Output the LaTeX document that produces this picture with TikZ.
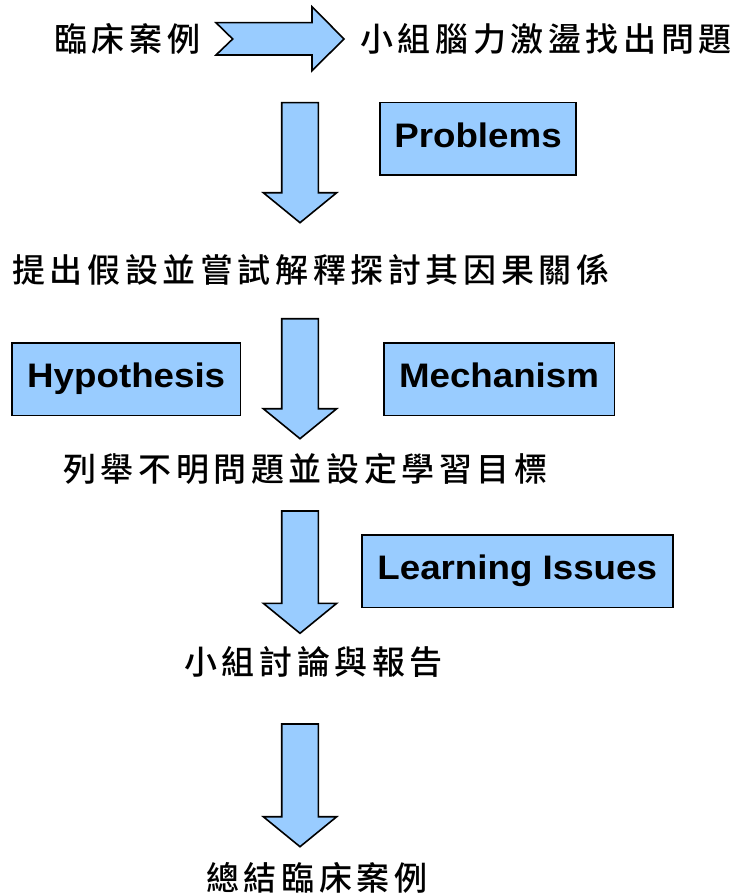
\documentclass[tikz,border=0pt]{standalone}
\usepackage{fontspec}
\setmainfont{Liberation Sans}
\newfontfamily\cjk[LetterSpace=14]{Noto Sans CJK TC Medium}
\definecolor{boxblue}{HTML}{99CCFF}
\tikzset{
  cjktext/.style={font=\cjk\fontsize{33}{36}\selectfont, inner sep=0pt, anchor=west},
  labelbox/.style={draw=black, line width=1.6pt, fill=boxblue, inner sep=0pt,
    text height=25pt, text depth=8pt, font=\bfseries\fontsize{34}{40}\selectfont},
  blockarrow/.style={draw=black, line width=1.6pt, fill=boxblue, line join=miter},
  pics/downarrow/.style={code={
    \draw[blockarrow] (-18.3,0) -- (18.3,0) -- (18.3,#1) -- (36.7,#1) -- (0,#1+30)
      -- (-36.7,#1) -- (-18.3,#1) -- cycle;
  }}
}
\begin{document}
\begin{tikzpicture}[x=1pt,y=-1pt]
\useasboundingbox (0,0) rectangle (734,896);

% top notched arrow
\draw[blockarrow] (216,22.7) -- (312,22.7) -- (312,6.7) -- (344,39) -- (312,70.7)
  -- (312,55) -- (216,55) -- (232.7,39) -- cycle;

% texts
\node[cjktext] (case) at (54,39) {臨床案例};
\node[cjktext] (brain) at (360,39) {小組腦力激盪找出問題};
\node[cjktext] (hypo) at (12,270) {提出假設並嘗試解釋探討其因果關係};
\node[cjktext] (list) at (63,469) {列舉不明問題並設定學習目標};
\node[cjktext] (disc) at (184,662) {小組討論與報告};
\node[cjktext] (summ) at (206,878) {總結臨床案例};

% down arrows
\pic at (300,102.7) {downarrow=90};
\pic at (300,318.7) {downarrow=90};
\pic at (300,511) {downarrow=92.3};
\pic at (300,724) {downarrow=92.7};

% boxes
\node[labelbox, minimum width=196pt, minimum height=72.3pt] (prob) at (478,138.8)
  {\scalebox{1.08}[1]{Problems}};
\node[labelbox, minimum width=228.3pt, minimum height=72.6pt] (hyp) at (126.2,379)
  {\scalebox{1.08}[1]{Hypothesis}};
\node[labelbox, minimum width=230.6pt, minimum height=72.6pt] (mech) at (499,379)
  {\scalebox{1.08}[1]{Mechanism}};
\node[labelbox, minimum width=311pt, minimum height=72.3pt] (learn) at (517.2,571.2)
  {\scalebox{1.08}[1]{Learning Issues}};
\end{tikzpicture}
\end{document}
